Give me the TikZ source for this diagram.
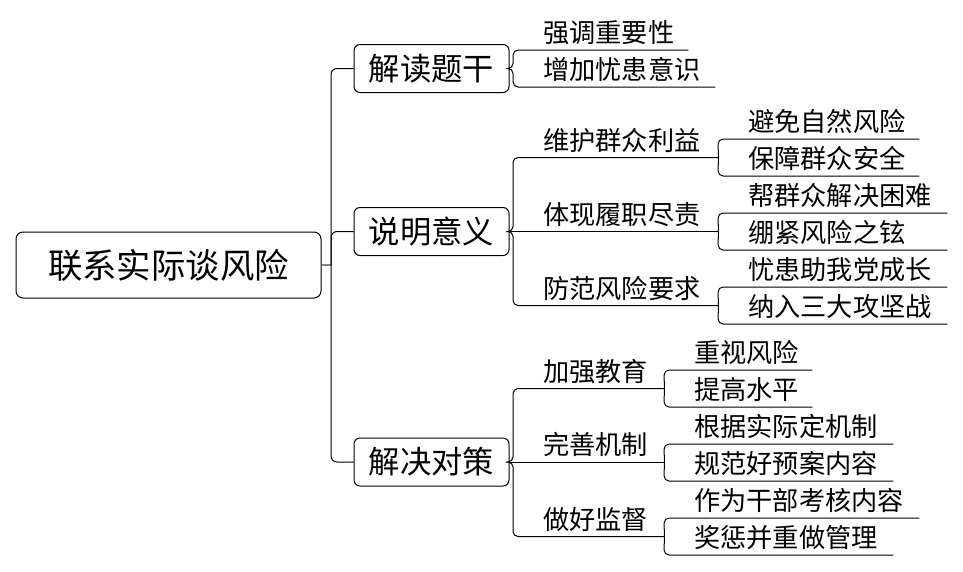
\documentclass[tikz,border=0pt]{standalone}
\usepackage{fontspec}
\newfontfamily\cjk{Noto Sans CJK SC}
\usepackage{tikz}
\pgfdeclarelayer{bg}
\pgfsetlayers{bg,main}
\tikzset{
    every node/.style={inner sep=0mm, font=\cjk}
}
\tikzset{
    rootbox/.style={draw, rounded corners=7pt, line width=1pt, minimum width=305pt, minimum height=66pt, font=\cjk\fontsize{34.4}{34.4}\selectfont},
    mainbox/.style={draw, rounded corners=6pt, line width=1pt, minimum width=155pt, minimum height=48pt, font=\cjk\fontsize{31.3}{31.3}\selectfont},
    sub/.style={anchor=south west, text width=#1, align=left, text height=19pt, text depth=7pt, font=\cjk\fontsize{26.2}{26.2}\selectfont, execute at begin node={\hspace*{30pt}}},
    trunk/.style={line width=1pt, to path={(\tikztotarget.west) [rounded corners=6pt] -| (\tikztostart)}},
    fork/.style={line width=1pt, to path={(\tikztotarget.south east) [rounded corners=5pt] -- (\tikztotarget.south west) -- (\tikztotarget.south west |- \tikztostart.east) [sharp corners] -- (\tikztostart.east)}},
    subfork/.style={line width=1pt, to path={(\tikztotarget.south east) [rounded corners=5pt] -- (\tikztotarget.south west) -- (\tikztostart.south east)}},
    flat/.style={line width=1pt, to path={(\tikztotarget.south east) -- (\tikztostart.east)}},
    stub/.style={line width=2.5pt, gray}
}

\begin{document}
\begin{tikzpicture}
        \useasboundingbox (0pt, 0pt) rectangle (963pt, -571pt);
        \node (r) [rootbox] at (168.5pt, -265pt) {联系实际谈风险};
        \coordinate (hub) at (331pt, -265pt);
        \node (b1) [mainbox] at (431.5pt, -68.5pt) {解读题干};
        \node (b2) [mainbox] at (431.5pt, -231.5pt) {说明意义};
        \node (b3) [mainbox] at (431.5pt, -462pt) {解决对策};
        % 解读题干
        \node (s11) [sub=175pt] at (513pt, -50pt) {强调重要性};
        \node (s12) [sub=202pt] at (513pt, -87pt) {增加忧患意识};
        % 说明意义
        \node (s21) [sub=205pt] at (513pt, -157.5pt) {维护群众利益};
        \node (s22) [sub=205pt] at (513pt, -231.5pt) {体现履职尽责};
        \node (s23) [sub=205pt] at (513pt, -305.5pt) {防范风险要求};
        \node (t211) [sub=201pt] at (718pt, -139pt) {避免自然风险};
        \node (t212) [sub=201pt] at (718pt, -176pt) {保障群众安全};
        \node (t221) [sub=229pt] at (718pt, -213pt) {帮群众解决困难};
        \node (t222) [sub=229pt] at (718pt, -250pt) {绷紧风险之铉};
        \node (t231) [sub=229pt] at (718pt, -287pt) {忧患助我党成长};
        \node (t232) [sub=229pt] at (718pt, -324pt) {纳入三大攻坚战};
        % 解决对策
        \node (s31) [sub=151pt] at (513pt, -388.5pt) {加强教育};
        \node (s32) [sub=151pt] at (513pt, -462pt) {完善机制};
        \node (s33) [sub=151pt] at (513pt, -536.5pt) {做好监督};
        \node (t311) [sub=148pt] at (664pt, -370pt) {重视风险};
        \node (t312) [sub=148pt] at (664pt, -407pt) {提高水平};
        \node (t321) [sub=229pt] at (664pt, -444pt) {根据实际定机制};
        \node (t322) [sub=229pt] at (664pt, -481pt) {规范好预案内容};
        \node (t331) [sub=255pt] at (664pt, -518pt) {作为干部考核内容};
        \node (t332) [sub=229pt] at (664pt, -555pt) {奖惩并重做管理};
        \begin{pgfonlayer}{bg}
                \draw[stub] (r.east) -- (hub);
                \draw (hub) edge [trunk] (b1);
                \draw (hub) edge [trunk] (b2);
                \draw (hub) edge [trunk] (b3);
                \draw (b1) edge [fork] (s11);
                \draw (b1) edge [fork] (s12);
                \draw (b2) edge [fork] (s21);
                \draw (b2) edge [flat] (s22);
                \draw (b2) edge [fork] (s23);
                \draw (s21) edge [subfork] (t211);
                \draw (s21) edge [subfork] (t212);
                \draw (s22) edge [subfork] (t221);
                \draw (s22) edge [subfork] (t222);
                \draw (s23) edge [subfork] (t231);
                \draw (s23) edge [subfork] (t232);
                \draw (b3) edge [fork] (s31);
                \draw (b3) edge [flat] (s32);
                \draw (b3) edge [fork] (s33);
                \draw (s31) edge [subfork] (t311);
                \draw (s31) edge [subfork] (t312);
                \draw (s32) edge [subfork] (t321);
                \draw (s32) edge [subfork] (t322);
                \draw (s33) edge [subfork] (t331);
                \draw (s33) edge [subfork] (t332);
        \end{pgfonlayer}
\end{tikzpicture}
\end{document}
